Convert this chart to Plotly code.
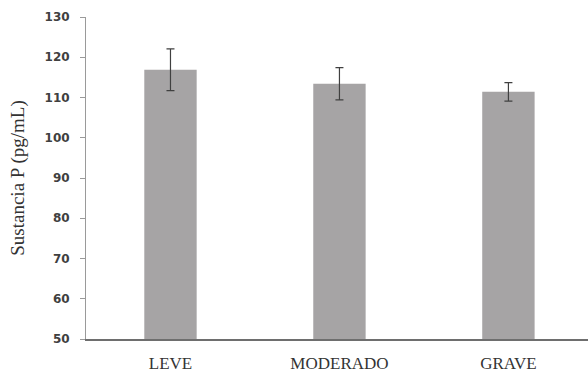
import plotly.graph_objects as go

# Sustancia P por grado de severidad (media ± error)
categorias = ["LEVE", "MODERADO", "GRAVE"]
medias = [116.9, 113.4, 111.4]
errores = [5.2, 4.0, 2.3]
y_ticks = [50, 60, 70, 80, 90, 100, 110, 120, 130]

fig = go.Figure()
fig.add_trace(go.Bar(
    x=categorias,
    y=medias,
    width=0.31,
    marker=dict(color="#a6a4a5", line=dict(width=0)),
    error_y=dict(type="data", array=errores, visible=True,
                 color="#404040", thickness=1.2, width=4),
))

fig.update_layout(
    width=588, height=374,
    margin=dict(l=86, r=0, t=17, b=35),
    paper_bgcolor="white", plot_bgcolor="white",
    showlegend=False,
    xaxis=dict(
        range=[-0.5, 2.471],
        showline=True, linecolor="#6e6e6e", linewidth=1.5,
        ticks="", showgrid=False,
        tickfont=dict(family="Liberation Serif", size=17, color="#333333"),
        ticklabelstandoff=8,
    ),
    yaxis=dict(
        range=[50, 130],
        tickvals=y_ticks,
        showline=True, linecolor="#9a9a9a", linewidth=1,
        ticks="outside", ticklen=5, tickcolor="#9a9a9a",
        showgrid=False, zeroline=False,
        tickfont=dict(family="DejaVu Sans", size=12, color="#404040",
                      weight="bold"),
        ticklabelstandoff=8,
        title=dict(text="Sustancia P (pg/mL)",
                   font=dict(family="Liberation Serif", size=19, color="#333333"),
                   standoff=14),
    ),
)

fig.write_html("out.html")
